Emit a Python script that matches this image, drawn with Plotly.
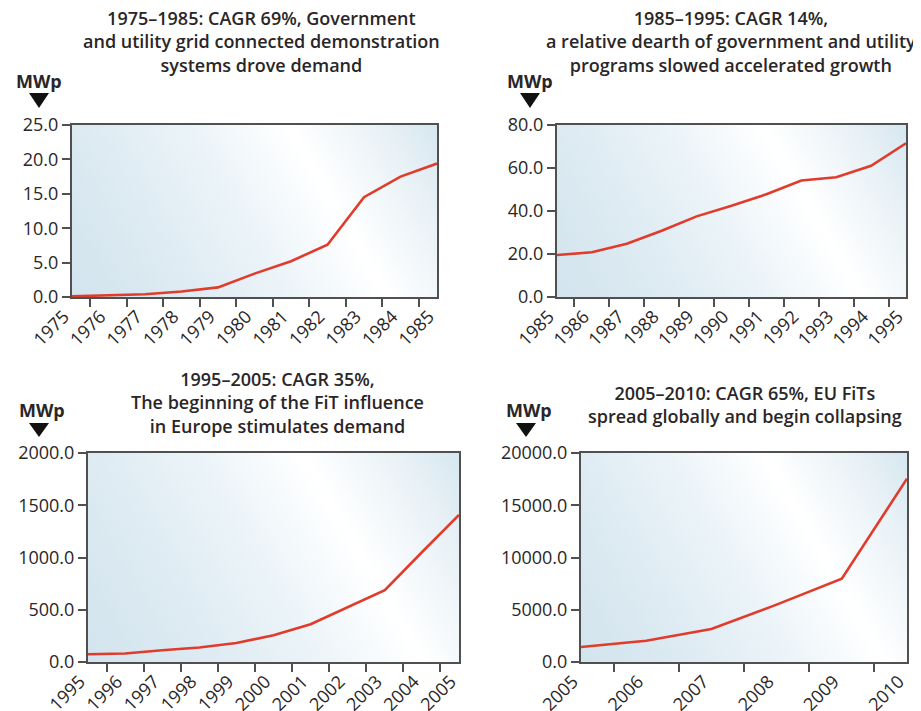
import base64
import math
import plotly.graph_objects as go

# The page is photographed in a 921x711 window; the browser's default 8px
# body margin shifts the figure, so the figure is sized to fit and all
# pixel positions below are given in window (screenshot) coordinates.
WIN_W, WIN_H = 921, 711
OFF = 8
FW, FH = WIN_W - OFF, WIN_H - OFF

# ---------------- data ----------------
years_1 = ["1975", "1976", "1977", "1978", "1979", "1980", "1981", "1982", "1983", "1984", "1985"]
mwp_1 = [0.1, 0.2, 0.4, 0.8, 1.4, 3.4, 5.2, 7.6, 14.5, 17.5, 19.4]

years_2 = ["1985", "1986", "1987", "1988", "1989", "1990", "1991", "1992", "1993", "1994", "1995"]
mwp_2 = [19.5, 20.8, 24.8, 30.8, 37.5, 42.4, 47.8, 54.2, 55.7, 61.0, 71.5]

years_3 = ["1995", "1996", "1997", "1998", "1999", "2000", "2001", "2002", "2003", "2004", "2005"]
mwp_3 = [74, 82, 112, 138, 182, 256, 362, 522, 688, 1050, 1407]

years_4 = ["2005", "2006", "2007", "2008", "2009", "2010"]
mwp_4 = [1435, 2040, 3160, 5490, 7975, 17540]

titles = [
    "1975–1985: CAGR 69%, Government<br>and utility grid connected demonstration<br>systems drove demand",
    "1985–1995: CAGR 14%,<br>a relative dearth of government and utility<br>programs slowed accelerated growth",
    "1995–2005: CAGR 35%,<br>The beginning of the FiT influence<br>in Europe stimulates demand",
    "2005–2010: CAGR 65%, EU FiTs<br>spread globally and begin collapsing",
]
y_ranges = [[0, 25], [0, 80], [0, 2000], [0, 20000]]
y_dticks = [5, 20, 500, 5000]
unit_label = "MWp"

# ---------------- layout geometry (window pixels) ----------------
panels = [
    dict(x0=72, x1=437, y0=125, y1=297, tx=262, ty=41.5, mx=39, my=81, tri=(39, 93, 108)),
    dict(x0=557, x1=906, y0=125, y1=297, tx=731, ty=41, mx=530, my=81, tri=(530, 93, 108)),
    dict(x0=88, x1=459, y0=453, y1=662, tx=277, ty=402.5, mx=42, my=410, tri=(39, 423, 437)),
    dict(x0=581, x1=907, y0=453, y1=662, tx=745, ty=404, mx=529, my=410, tri=(526, 423, 437)),
]

def px(x):
    return (x - OFF) / FW

def py(y):
    return 1 - (y - OFF) / FH

FONT = "Open Sans"
TXT = "#2a2627"
LINE = "#e03b2b"
AX = "#505050"

def gradient_svg(w, h):
    dx, dy = 172, -100
    n = math.hypot(dx, dy)
    ux, uy = dx / n, dy / n
    L = ux * w + uy * (0 - h)
    x2 = ux * L
    y2 = h + uy * L
    svg = f'''<svg xmlns="http://www.w3.org/2000/svg" width="{w}" height="{h}" viewBox="0 0 {w} {h}" preserveAspectRatio="none">
<defs><linearGradient id="g" gradientUnits="userSpaceOnUse" x1="0" y1="{h}" x2="{x2:.1f}" y2="{y2:.1f}">
<stop offset="0" stop-color="#d2e4ee"/>
<stop offset="0.2" stop-color="#dbe9f1"/>
<stop offset="0.45" stop-color="#eaf3f8"/>
<stop offset="0.68" stop-color="#ffffff"/>
<stop offset="0.88" stop-color="#e8f1f6"/>
<stop offset="1" stop-color="#d6e7f0"/>
</linearGradient></defs>
<rect x="0" y="0" width="{w}" height="{h}" fill="url(#g)"/>
</svg>'''
    return "data:image/svg+xml;base64," + base64.b64encode(svg.encode()).decode()

fig = go.Figure()
series = [(years_1, mwp_1), (years_2, mwp_2), (years_3, mwp_3), (years_4, mwp_4)]

annotations = []
shapes = []
images = []

for i, (p, (xs, ys)) in enumerate(zip(panels, series)):
    k = "" if i == 0 else str(i + 1)
    fig.add_trace(go.Scatter(
        x=xs, y=ys, mode="lines",
        line=dict(color=LINE, width=2.6),
        xaxis="x" + k, yaxis="y" + k, showlegend=False, hoverinfo="x+y",
    ))
    fig.update_layout(**{
        "xaxis" + k: dict(
            domain=[px(p["x0"]), px(p["x1"])],
            anchor="y" + k, type="category", tickson="boundaries",
            ticks="outside", ticklen=8, tickwidth=1.5, tickcolor=AX,
            showline=True, linecolor=AX, linewidth=2, mirror=True,
            showgrid=False, zeroline=False, tickangle=-45, automargin=False,
            ticklabelshift=-8,
            tickfont=dict(family=FONT, size=18, color=TXT),
            fixedrange=True,
        ),
        "yaxis" + k: dict(
            domain=[py(p["y1"]), py(p["y0"])],
            anchor="x" + k, range=y_ranges[i], dtick=y_dticks[i], tickformat=".1f",
            ticks="outside", ticklen=8, tickwidth=1.5, tickcolor=AX,
            showline=True, linecolor=AX, linewidth=2, mirror=True,
            showgrid=False, zeroline=False, automargin=False,
            tickfont=dict(family=FONT, size=18, color=TXT),
            fixedrange=True,
        ),
    })
    images.append(dict(
        source=gradient_svg(p["x1"] - p["x0"], p["y1"] - p["y0"]),
        xref="x" + k + " domain", yref="y" + k + " domain",
        x=0, y=1, sizex=1, sizey=1, xanchor="left", yanchor="top",
        sizing="stretch", layer="below",
    ))
    annotations.append(dict(
        text=titles[i], x=px(p["tx"]), y=py(p["ty"]), xref="paper", yref="paper",
        xanchor="center", yanchor="middle", showarrow=False, align="center",
        font=dict(family=FONT, size=18, color=TXT, weight=600),
    ))
    annotations.append(dict(
        text="<b>" + unit_label + "</b>", x=px(p["mx"]), y=py(p["my"]), xref="paper", yref="paper",
        xanchor="center", yanchor="middle", showarrow=False,
        font=dict(family=FONT, size=18, color=TXT),
    ))
    cx, ty0, ty1 = p["tri"]
    shapes.append(dict(
        type="path", xref="paper", yref="paper",
        path=f"M {px(cx - 10)},{py(ty0)} L {px(cx + 10)},{py(ty0)} L {px(cx)},{py(ty1)} Z",
        fillcolor="#111111", line=dict(width=0),
    ))

fig.update_layout(
    width=FW, height=FH,
    margin=dict(l=0, r=0, t=0, b=0, autoexpand=False),
    paper_bgcolor="white", plot_bgcolor="rgba(0,0,0,0)",
    annotations=annotations, shapes=shapes, images=images,
    font=dict(family=FONT, color=TXT),
)

fig.write_html("out.html")
